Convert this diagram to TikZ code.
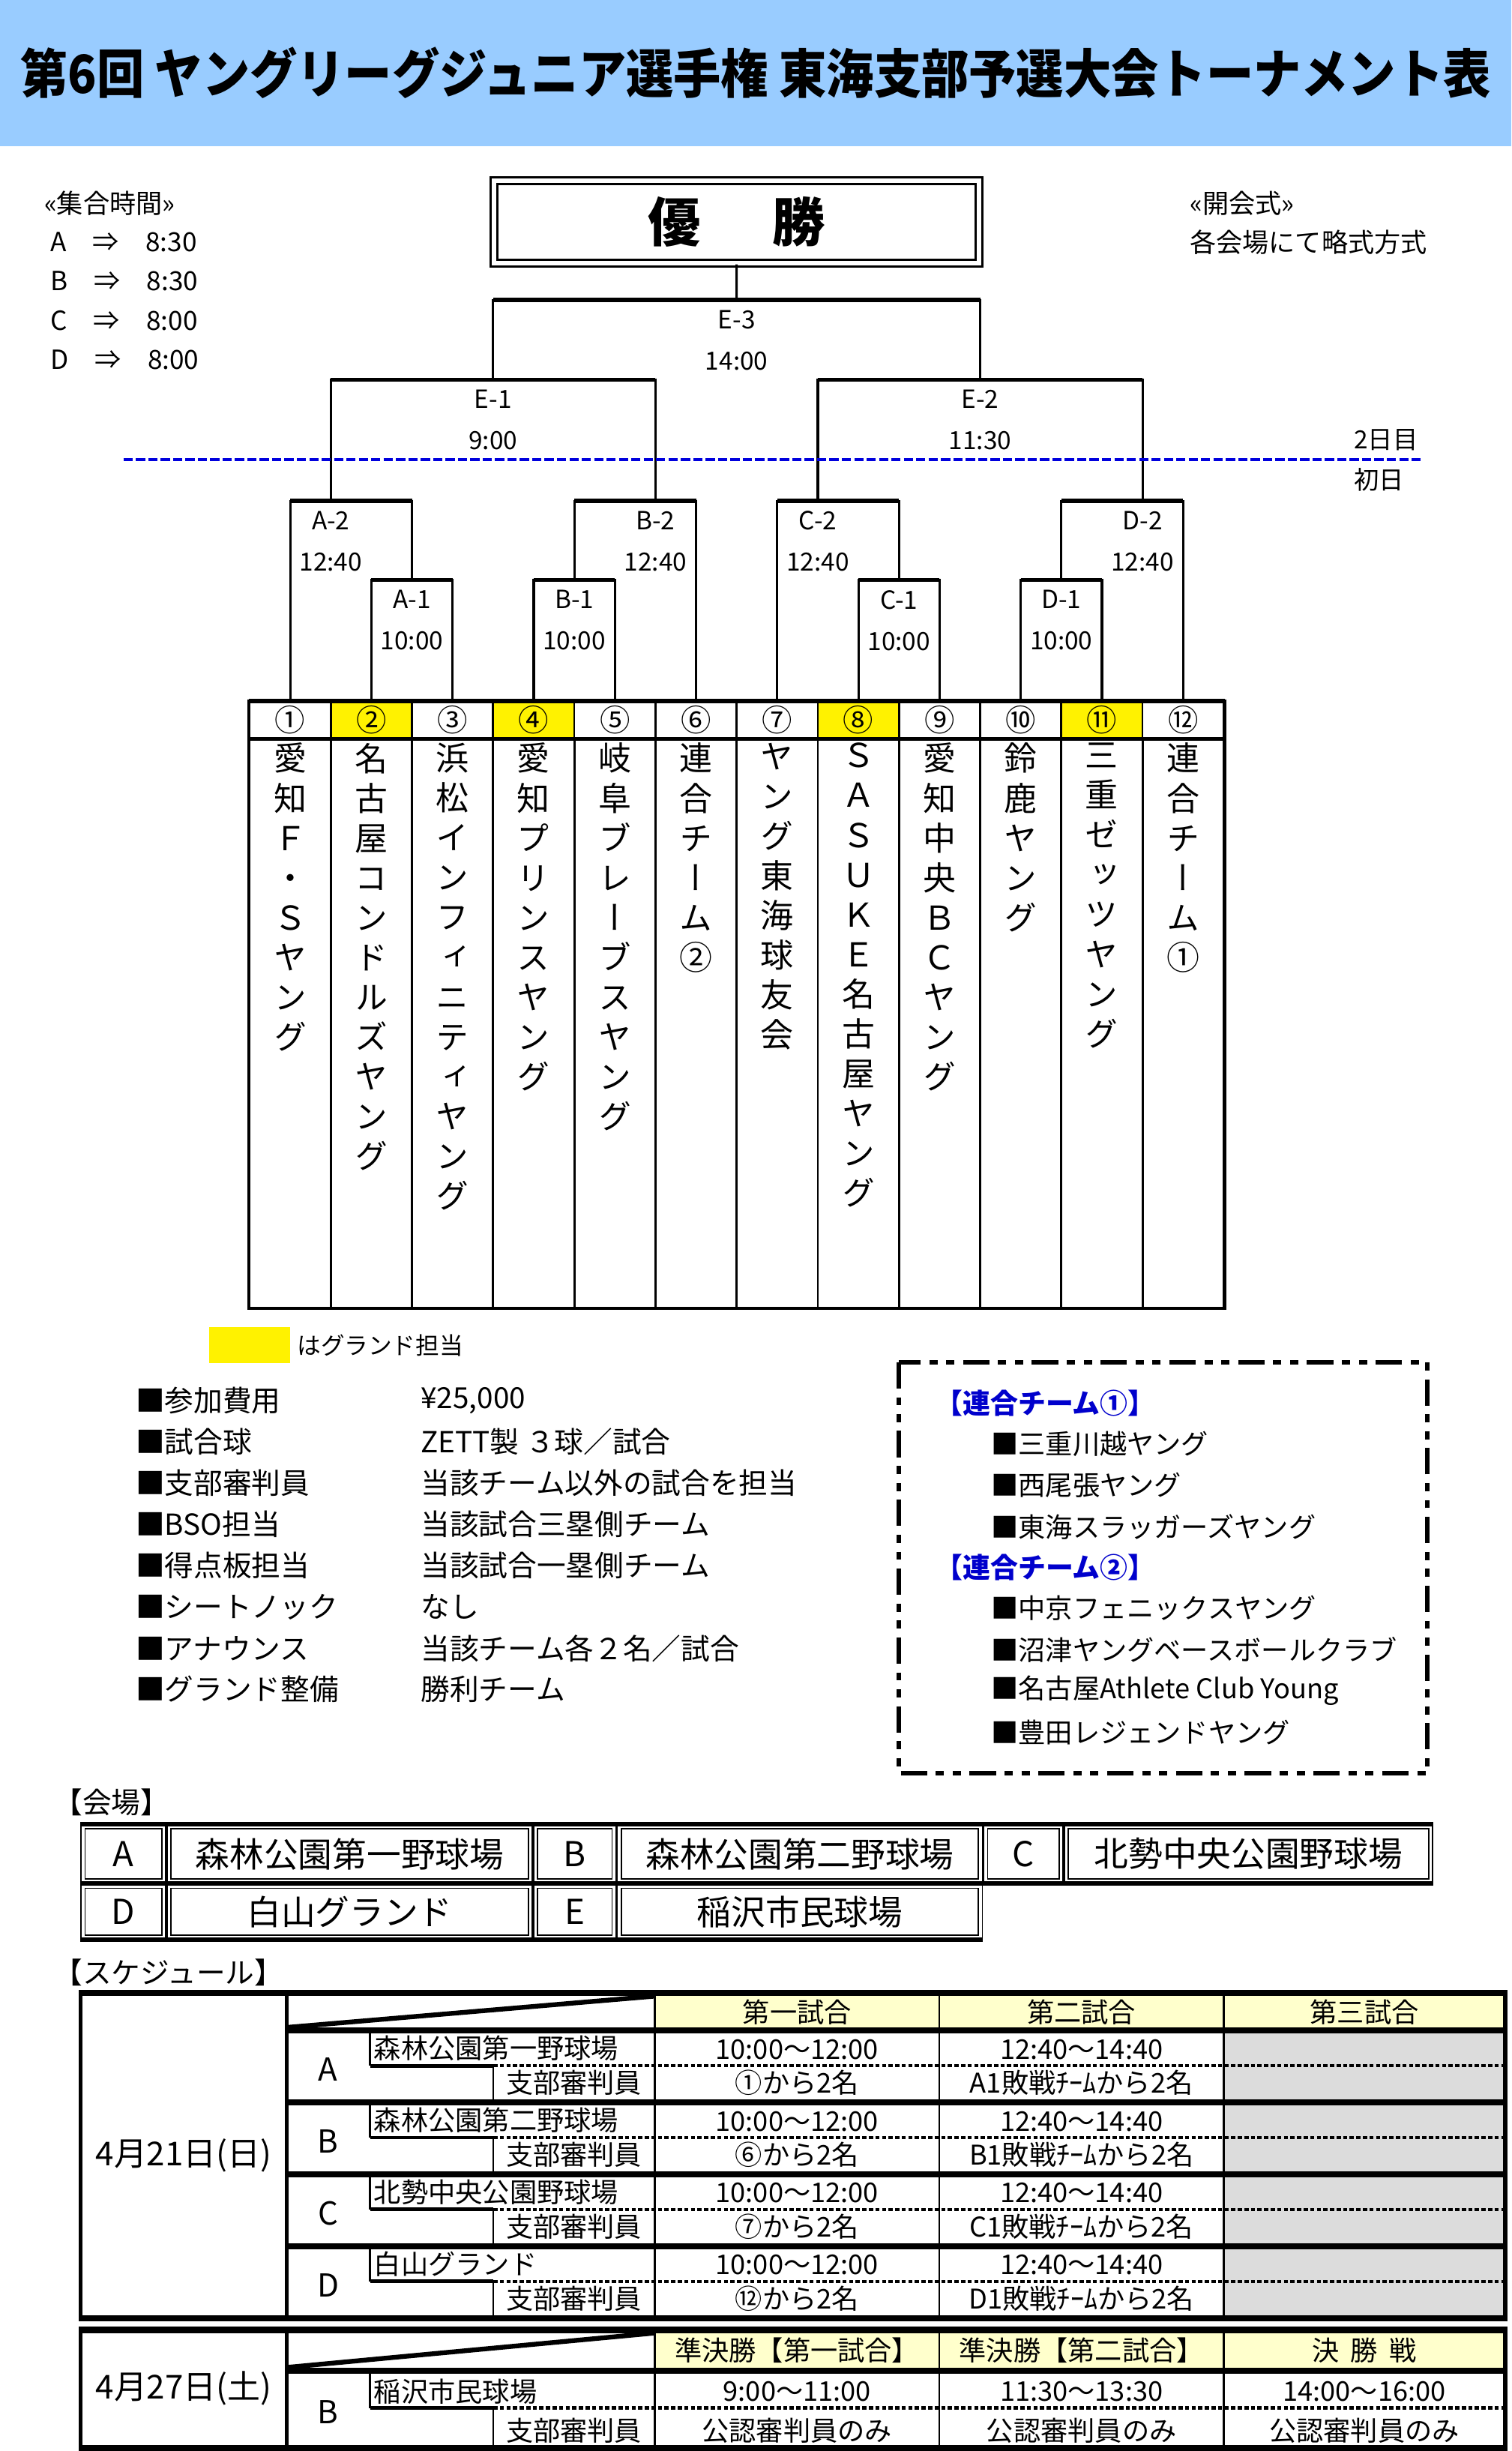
\documentclass[tikz,border=0pt]{standalone}
\usepackage{fontspec}
\setmainfont{Noto Sans CJK JP}
\newfontfamily\tatefont{Noto Sans CJK JP}[RawFeature=+vert]
\usepackage{graphicx}
\usepackage{tikz}
\usetikzlibrary{positioning}

\definecolor{titleblue}{HTML}{99CCFF}
\definecolor{headyellow}{HTML}{FFFFCC}
\definecolor{teamblue}{HTML}{0000CC}
\definecolor{linkblue}{HTML}{0000DD}
\definecolor{dotgray}{HTML}{DCDCDC}

% x of the team grid lines (0 = left edge, 12 = right edge)
\newcommand\bx[1]{(159.7+51.94*(#1))}
% two feet joined under one bar
\newcommand\matchline[3]{%
  \draw[leg] (#1) |- (#3) -| (#2);
  \draw[bar] (#1 |- #3) -- (#2 |- #3);}
% one character per line
\makeatletter
\newcommand\tatestack[1]{\edef\tate@s{#1}%
  \expandafter\@tfor\expandafter\tate@c\expandafter:\expandafter=\tate@s\do{\tate@c\par}}
\makeatother

\begin{document}
\begin{tikzpicture}[x=0.020848cm, y=-0.020848cm,
  leg/.style={line width=0.9pt},
  bar/.style={line width=1.6pt},
  lbl/.style={inner sep=0pt, font=\fontsize{9.5}{10}\selectfont},
  note/.style={anchor=west, inner sep=0pt, font=\fontsize{10}{10}\selectfont},
  numcell/.style={draw, line width=0.8pt, minimum width=1.0829cm, minimum height=0.4795cm, inner sep=0pt, font=\fontsize{11.5}{11.5}\selectfont},
  namecell/.style={draw, line width=0.8pt, minimum width=1.0829cm, minimum height=7.599cm, inner sep=0pt},
  tate/.style={anchor=north, inner sep=0pt, text width=1cm, align=center, font=\tatefont\fontsize{12.5}{15.1}\selectfont},
  info/.style={anchor=west, inner sep=0pt, font=\fontsize{11}{11}\selectfont},
  joinitem/.style={anchor=west, inner sep=0pt, font=\fontsize{10.3}{10.3}\selectfont},
  joinhead/.style={info, text=teamblue, font=\bfseries\fontsize{10.5}{10.5}\selectfont},
  vcell/.style={draw, double, line width=0.5pt, double distance=1pt, inner sep=0pt, font=\fontsize{13}{13}\selectfont},
  cell/.style={inner sep=0pt, font=\fontsize{10.3}{10.3}\selectfont},
  rule/.style={line width=0.7pt},
  dotline/.style={line width=1.3pt, dash pattern=on 1.6pt off 0.9pt},
  daysplit/.style={draw=linkblue, line width=1pt, dash pattern=on 3.5pt off 1.2pt},
  dashbox/.style={line width=1.7pt, dash pattern=on 10pt off 3.3pt on 3.1pt off 3.3pt on 3.1pt off 3.3pt}]
\useasboundingbox (0,0) rectangle (967,1568);

% title
\fill[titleblue] (0,0) rectangle (967,93.5);
\node (title) [font=\bfseries\fontsize{20}{20}\selectfont] at (483.5,46.5) {\scalebox{0.9}[1]{第6回 ヤングリーグジュニア選手権 東海支部予選大会トーナメント表}};

% meeting times, opening
\node (meet) [note] at (28,130) {«集合時間»};
\foreach \vn/\tm [count=\kk] in {A/8:30, B/8:30, C/8:00, D/8:00}
  \node (meet\vn) [note] at (32,{130+25*\kk}) {\vn　⇒　\tm};
\node (open) [note] at (761,130) {«開会式»};
\node (openway) [note] at (761,155) {各会場にて略式方式};

% champion
\node (win) [draw, double, line width=0.9pt, double distance=1.6pt, minimum width=6.47cm, minimum height=1.1cm, font=\bfseries\fontsize{20}{20}\selectfont] at (471.3,142) {優\hspace{0.95cm}勝};

% bracket
\foreach \i in {1,...,12} \coordinate (t\i) at ({\bx{\i-0.5}},449);
\coordinate (A1) at ({\bx{2}},371);
\coordinate (B1) at ({\bx{4}},371);
\coordinate (C1) at ({\bx{8}},371);
\coordinate (D1) at ({\bx{10}},371);
\coordinate (A2) at ({\bx{1}},320.5);
\coordinate (B2) at ({\bx{5}},320.5);
\coordinate (C2) at ({\bx{7}},320.5);
\coordinate (D2) at ({\bx{11}},320.5);
\coordinate (E1) at ({\bx{3}},243);
\coordinate (E2) at ({\bx{9}},243);
\coordinate (E3) at ({\bx{6}},192);

\matchline{t2}{t3}{A1}
\matchline{t4}{t5}{B1}
\matchline{t8}{t9}{C1}
\matchline{t10}{t11}{D1}
\matchline{t1}{A1}{A2}
\matchline{B1}{t6}{B2}
\matchline{t7}{C1}{C2}
\matchline{D1}{t12}{D2}
\matchline{A2}{B2}{E1}
\matchline{C2}{D2}{E2}
\matchline{E1}{E2}{E3}
\draw[leg] (win) -- (E3);

\foreach \m/\s/\tm in {A1/A-1/10:00, B1/B-1/10:00, C1/C-1/10:00, D1/D-1/10:00, A2/A-2/12:40, B2/B-2/12:40, C2/C-2/12:40, D2/D-2/12:40, E1/E-1/9:00, E2/E-2/11:30, E3/E-3/14:00} {
  \node (n\m) [lbl, below=0.13cm of \m] {\s};
  \node (time\m) [lbl, below=0.29cm of n\m] {\tm};
}

% day split
\coordinate (dayL) at (79,294);
\coordinate (dayR) at (911,294);
\draw[daysplit] (dayL) -- (dayR);
\node (day2) [note, font=\fontsize{9.5}{9.5}\selectfont] at (866,281.5) {2日目};
\node (day1) [note, font=\fontsize{9.5}{9.5}\selectfont] at (866,307) {初日};

% teams
\foreach \i/\n/\hue in {1/①/white, 2/②/yellow, 3/③/white, 4/④/yellow, 5/⑤/white, 6/⑥/white, 7/⑦/white, 8/⑧/yellow, 9/⑨/white, 10/⑩/white, 11/⑪/yellow, 12/⑫/white} {
  \node (h\i) [numcell, fill=\hue] at ({\bx{\i-0.5}},460.5) {\n};
  \node (c\i) [namecell] at ({\bx{\i-0.5}},654.25) {};
}
\foreach \i/\tm in {1/愛知Ｆ・Ｓヤング, 2/名古屋コンドルズヤング, 3/浜松インフィニティヤング, 4/愛知プリンスヤング, 5/岐阜ブレーブスヤング, 6/連合チーム②, 7/ヤング東海球友会, 8/ＳＡＳＵＫＥ名古屋ヤング, 9/愛知中央ＢＣヤング, 10/鈴鹿ヤング, 11/三重ゼッツヤング, 12/連合チーム①}
  \node (m\i) [tate] at ({\bx{\i-0.5}},475) {\tatestack{\tm}};
\draw[line width=1.4pt] (h1.north west) -- (h12.north east);
\draw[line width=1.4pt] (h1.south west) -- (h12.south east);
\draw[line width=1.1pt] (h1.north west) rectangle (c12.south east);

% key and rules
\node (key) [fill=yellow, minimum width=1.076cm, minimum height=0.48cm, inner sep=0pt] at (159.8,860.5) {};
\node (keytext) [right=0.08cm of key, inner sep=0pt, font=\fontsize{9}{9}\selectfont] {はグランド担当};
\foreach \itm/\val [count=\kk from 0] in {参加費用/{¥25,000}, 試合球/{ZETT製 ３球／試合}, 支部審判員/当該チーム以外の試合を担当, BSO担当/当該試合三塁側チーム, 得点板担当/当該試合一塁側チーム, シートノック/なし, アナウンス/当該チーム各２名／試合, グランド整備/勝利チーム} {
  \node (item\kk) [info] at (86.6,{896+26.4*\kk}) {■\itm};
  \node (val\kk) [info] at (269,{896+26.4*\kk}) {\val};
}

% joint teams
\coordinate (boxNW) at (575.3,871.4);
\coordinate (boxSE) at (913.3,1134.4);
\draw[dashbox] (boxNW) rectangle (boxSE);
\node (join1) [joinhead] at (598,897.5) {【連合チーム①】};
\foreach \tm [count=\kk] in {三重川越ヤング, 西尾張ヤング, 東海スラッガーズヤング}
  \node (joinA\kk) [joinitem] at (634,{897.5+26.4*\kk}) {■\tm};
\node (join2) [joinhead] at (598,1002.5) {【連合チーム②】};
\foreach \tm [count=\kk] in {中京フェニックスヤング, 沼津ヤングベースボールクラブ, 名古屋Athlete Club Young, 豊田レジェンドヤング}
  \node (joinB\kk) [joinitem] at (634,{1002.5+26.4*\kk}) {■\tm};

% grounds
\node (venuehd) [note, font=\fontsize{11}{11}\selectfont] at (34,1153) {【会場】};
\foreach \n/\lx/\rx/\ty/\by/\s in {vA/51.5/106.5/1167/1205/A, vAp/106.5/341/1167/1205/森林公園第一野球場, vB/341/394.6/1167/1205/B, vBp/394.6/629/1167/1205/森林公園第二野球場, vC/629/680.6/1167/1205/C, vCp/680.6/917/1167/1205/北勢中央公園野球場, vD/51.5/106.5/1205/1241/D, vDp/106.5/341/1205/1241/白山グランド, vE/341/394.6/1205/1241/E, vEp/394.6/629/1205/1241/稲沢市民球場}
  \node (\n) [vcell, minimum width={(\rx-\lx)*0.020848cm-2pt}, minimum height={(\by-\ty)*0.020848cm-2pt}] at ({(\lx+\rx)/2},{(\ty+\by)/2}) {\s};
\draw[line width=1.8pt] (51.5,1167) -- (917,1167);
\draw[line width=1.8pt] (51.5,1205) -- (917,1205);
\draw[line width=1.8pt] (51.5,1241) -- (629,1241);

% schedule, day 1
\node (schedhd) [note, font=\fontsize{11}{11}\selectfont] at (34,1262) {【スケジュール】};
\fill[headyellow] (419,1277) rectangle (963,1297);
\foreach \ry in {1301,1347,1393,1439} {
  \fill[dotgray] (783,\ry) rectangle (963,{\ry+42});
  \draw[rule] (236.8,\ry) -- (236.8,{\ry+20.5});
  \draw[line width=1.4pt] (236.8,{\ry+20.5}) -- (315.6,{\ry+20.5});
  \draw[rule] (315.6,{\ry+20.5}) -- (315.6,{\ry+42});
  \draw[dotline] (315.6,{\ry+20.5}) -- (963,{\ry+20.5});
}
\foreach \cx in {419,601,783} \draw[rule] (\cx,1277) -- (\cx,1481);
\draw[line width=1.8pt] (183.5,1297) -- (419,1277);
\fill (51.5,1273) rectangle (963,1277);
\foreach \ry in {1297,1343,1389,1435} \fill (183.5,\ry) rectangle (963,{\ry+4});
\fill (51.5,1481) rectangle (963,1485);
\draw[line width=1.6pt] (51.5,1273) -- (51.5,1485) (183.5,1273) -- (183.5,1485) (963,1273) -- (963,1485);

\node (day21) [cell, font=\fontsize{12.5}{12.5}\selectfont] at (117.5,1379) {4月21日(日)};
\foreach \g/\cx in {第一試合/510, 第二試合/692, 第三試合/873} \node (game\cx) [cell] at (\cx,1287) {\g};
\foreach \vn/\p/\f/\ry in {A/森林公園第一野球場/①/1301, B/森林公園第二野球場/⑥/1347, C/北勢中央公園野球場/⑦/1393, D/白山グランド/⑫/1439} {
  \node (let\vn) [cell, font=\fontsize{12}{12}\selectfont] at (210,{\ry+23}) {\vn};
  \node (park\vn) [cell, anchor=west] at (239,{\ry+9.5}) {\p};
  \node (ref\vn) [cell, anchor=east] at (411,{\ry+31.5}) {支部審判員};
  \node (first\vn) [cell] at (510,{\ry+10}) {10:00〜12:00};
  \node (second\vn) [cell] at (692,{\ry+10}) {12:40〜14:40};
  \node (fref\vn) [cell] at (510,{\ry+31.5}) {\f から2名};
  \node (sref\vn) [cell] at (692,{\ry+31.5}) {\vn 1敗戦ﾁｰﾑから2名};
}

% schedule, day 2
\fill[headyellow] (419,1492.5) rectangle (963,1514.5);
\draw[rule] (236.8,1518.5) -- (236.8,1540.5);
\draw[line width=1.4pt] (236.8,1540.5) -- (315.6,1540.5);
\draw[rule] (315.6,1540.5) -- (315.6,1564);
\draw[dotline] (315.6,1540.5) -- (963,1540.5);
\foreach \cx in {419,601,783} \draw[rule] (\cx,1492.5) -- (\cx,1564);
\draw[line width=1.8pt] (183.5,1514.5) -- (419,1492.5);
\fill (51.5,1488.5) rectangle (963,1492.5);
\fill (183.5,1514.5) rectangle (963,1518.5);
\fill (51.5,1564) rectangle (963,1568);
\draw[line width=1.6pt] (51.5,1488.5) -- (51.5,1568) (183.5,1488.5) -- (183.5,1568) (963,1488.5) -- (963,1568);

\node (day27) [cell, font=\fontsize{12.5}{12.5}\selectfont] at (117.5,1528) {4月27日(土)};
\foreach \g/\cx in {準決勝【第一試合】/510, 準決勝【第二試合】/692, 決\hspace{0.15cm}勝\hspace{0.15cm}戦/873} \node (semi\cx) [cell] at (\cx,1503.5) {\g};
\node (letE) [cell, font=\fontsize{12}{12}\selectfont] at (210,1543) {B};
\node (parkE) [cell, anchor=west] at (239,1530) {稲沢市民球場};
\node (refE) [cell, anchor=east] at (411,1555) {支部審判員};
\foreach \tm/\cx in {9:00〜11:00/510, 11:30〜13:30/692, 14:00〜16:00/873} {
  \node (final\cx) [cell] at (\cx,1530) {\tm};
  \node (judge\cx) [cell] at (\cx,1555) {公認審判員のみ};
}
\end{tikzpicture}
\end{document}
